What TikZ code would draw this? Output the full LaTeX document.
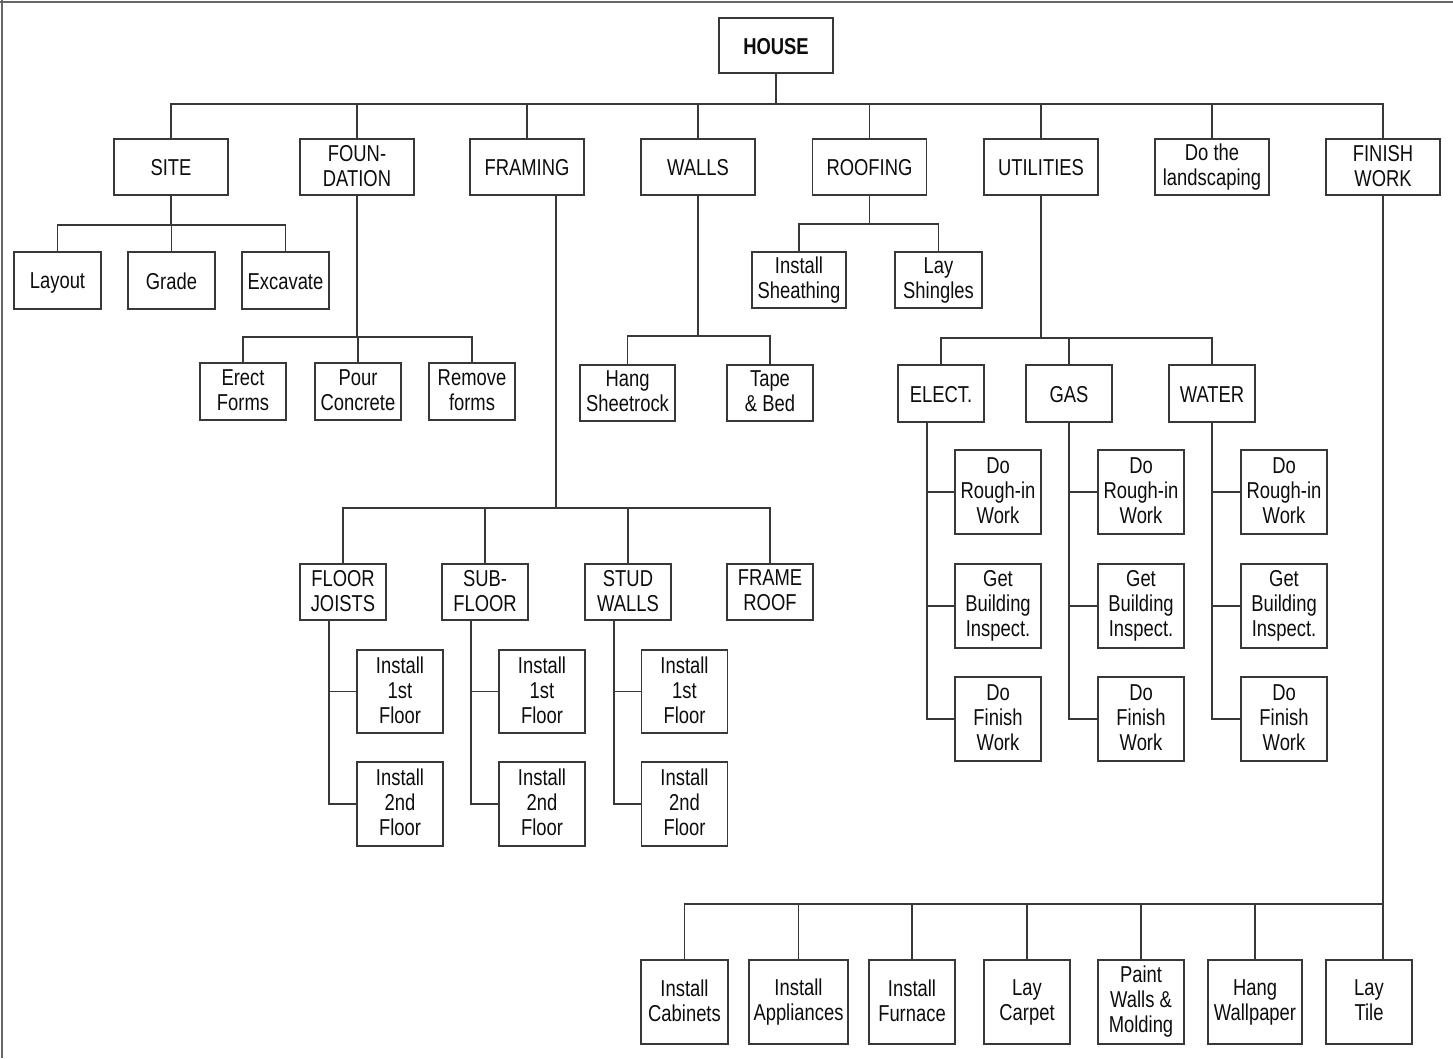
\documentclass[tikz,border=0pt]{standalone}
\usepackage{fontspec}
\setmainfont[FakeStretch=0.8]{Liberation Sans}
\newcommand\mystrut{\rule[-3pt]{0pt}{23pt}}
\begin{document}
\begin{tikzpicture}[x=1pt,y=-1pt,
  box/.style={draw=black!78,line width=1.7pt,inner sep=0pt,align=center,
    text=black!95,font=\fontsize{23}{25}\selectfont,
    execute at begin node=\mystrut, execute at end node=\mystrut},
  big/.style={box,minimum width=114pt,minimum height=56pt},
  sm/.style={box,minimum width=86pt,minimum height=57pt},
  tall/.style={box,minimum width=86pt,minimum height=84pt},
  ln/.style={draw=black!78,line width=1.7pt}]
\useasboundingbox (0,0) rectangle (1453,1058);
\draw[black!60,line width=2pt] (0,2) -- (1453,2);
\draw[black!60,line width=2pt] (1.5,0) -- (1.5,1058);

\node[big,minimum height=55pt,font=\fontsize{23}{25}\selectfont\bfseries] (house) at (776,45.5) {HOUSE};

\node[big] (site) at (171,167) {SITE};
\node[big] (found) at (357,167) {FOUN-\\DATION};
\node[big] (framing) at (527,167) {FRAMING};
\node[big] (walls) at (698,167) {WALLS};
\node[big] (roofing) at (869.5,167) {ROOFING};
\node[big] (util) at (1041,167) {UTILITIES};
\node[big] (land) at (1212,167) {Do the\\landscaping};
\node[big] (finish) at (1383,167) {FINISH\\WORK};

\foreach \c in {site,found,framing,walls,roofing,util,land,finish}
  \draw[ln] (house.south) -- ++(0,30) -| (\c.north);

% SITE
\node[sm,minimum width=87pt] (layout) at (57.5,280.5) {Layout};
\node[sm,minimum width=87pt] (grade) at (171.5,280.5) {Grade};
\node[sm,minimum width=87pt] (excavate) at (285.5,280.5) {Excavate};
\foreach \c in {layout,grade,excavate}
  \draw[ln] (site.south) -- ++(0,29) -| (\c.north);

% FOUNDATION
\node[sm] (erect) at (243,391.5) {Erect\\Forms};
\node[sm] (pour) at (358,391.5) {Pour\\Concrete};
\node[sm] (remove) at (472,391.5) {Remove\\forms};
\foreach \c in {erect,pour,remove}
  \draw[ln] (found.south) -- ++(0,141) -| (\c.north);

% WALLS
\node[sm,minimum width=95pt,minimum height=56pt] (hang) at (627.5,393) {Hang\\Sheetrock};
\node[sm,minimum height=56pt] (tape) at (770,393) {Tape\\\& Bed};
\foreach \c in {hang,tape}
  \draw[ln] (walls.south) -- ++(0,140) -| (\c.north);

% ROOFING
\node[sm,minimum width=94pt,minimum height=56pt] (sheath) at (799,280) {Install\\Sheathing};
\node[sm,minimum width=87pt,minimum height=56pt] (shingles) at (938.5,280) {Lay\\Shingles};
\foreach \c in {sheath,shingles}
  \draw[ln] (roofing.south) -- ++(0,28) -| (\c.north);

% UTILITIES
\node[sm] (elect) at (941,393.5) {ELECT.};
\node[sm] (gas) at (1069,393.5) {GAS};
\node[sm] (water) at (1212,393.5) {WATER};
\foreach \c in {elect,gas,water}
  \draw[ln] (util.south) -- ++(0,142) -| (\c.north);

\foreach \p/\x in {e/998,g/1141,w/1284}{
  \node[tall] (\p1) at (\x,492) {Do\\Rough-in\\Work};
  \node[tall] (\p2) at (\x,606) {Get\\Building\\Inspect.};
  \node[tall] (\p3) at (\x,719) {Do\\Finish\\Work};
}
\foreach \c in {e1,e2,e3} \draw[ln] ([xshift=-14pt]elect.south) |- (\c.west);
\foreach \c in {g1,g2,g3} \draw[ln] (gas.south) |- (\c.west);
\foreach \c in {w1,w2,w3} \draw[ln] (water.south) |- (\c.west);

% FRAMING
\node[sm,minimum height=56pt] (fj) at (343,592) {FLOOR\\JOISTS};
\node[sm,minimum height=56pt] (sf) at (485,592) {SUB-\\FLOOR};
\node[sm,minimum height=56pt] (sw) at (628,592) {STUD\\WALLS};
\node[sm,minimum height=56pt] (frf) at (770,592) {FRAME\\ROOF};
\foreach \c in {fj,sf,sw,frf}
  \draw[ln] ([xshift=29pt]framing.south) -- ++(0,312) -| (\c.north);

\foreach \p/\x in {fj/400,sf/542,sw/684.5}{
  \node[tall,minimum height=83pt] (\p1) at (\x,691.5) {Install\\1st\\Floor};
  \node[tall] (\p2) at (\x,804) {Install\\2nd\\Floor};
  \draw[ln] ([xshift=-14pt]\p.south) |- (\p1.west);
  \draw[ln] ([xshift=-14pt]\p.south) |- (\p2.west);
}

% FINISH WORK
\node[tall,minimum width=87pt] (cab) at (684.5,1002) {Install\\Cabinets};
\node[tall,minimum width=99pt] (appl) at (798.5,1002) {Install\\Appliances};
\node[tall] (furn) at (912,1002) {Install\\Furnace};
\node[tall] (carpet) at (1027,1002) {Lay\\Carpet};
\node[tall] (paint) at (1141,1002) {Paint\\Walls \&\\Molding};
\node[tall,minimum width=94pt] (wallp) at (1255,1002) {Hang\\Wallpaper};
\node[tall] (tile) at (1369,1002) {Lay\\Tile};
\foreach \c in {cab,appl,furn,carpet,paint,wallp}
  \draw[ln] (finish.south) -- ++(0,708) -| (\c.north);
\draw[ln] (finish.south) -- (finish.south |- tile.north);
\end{tikzpicture}
\end{document}
